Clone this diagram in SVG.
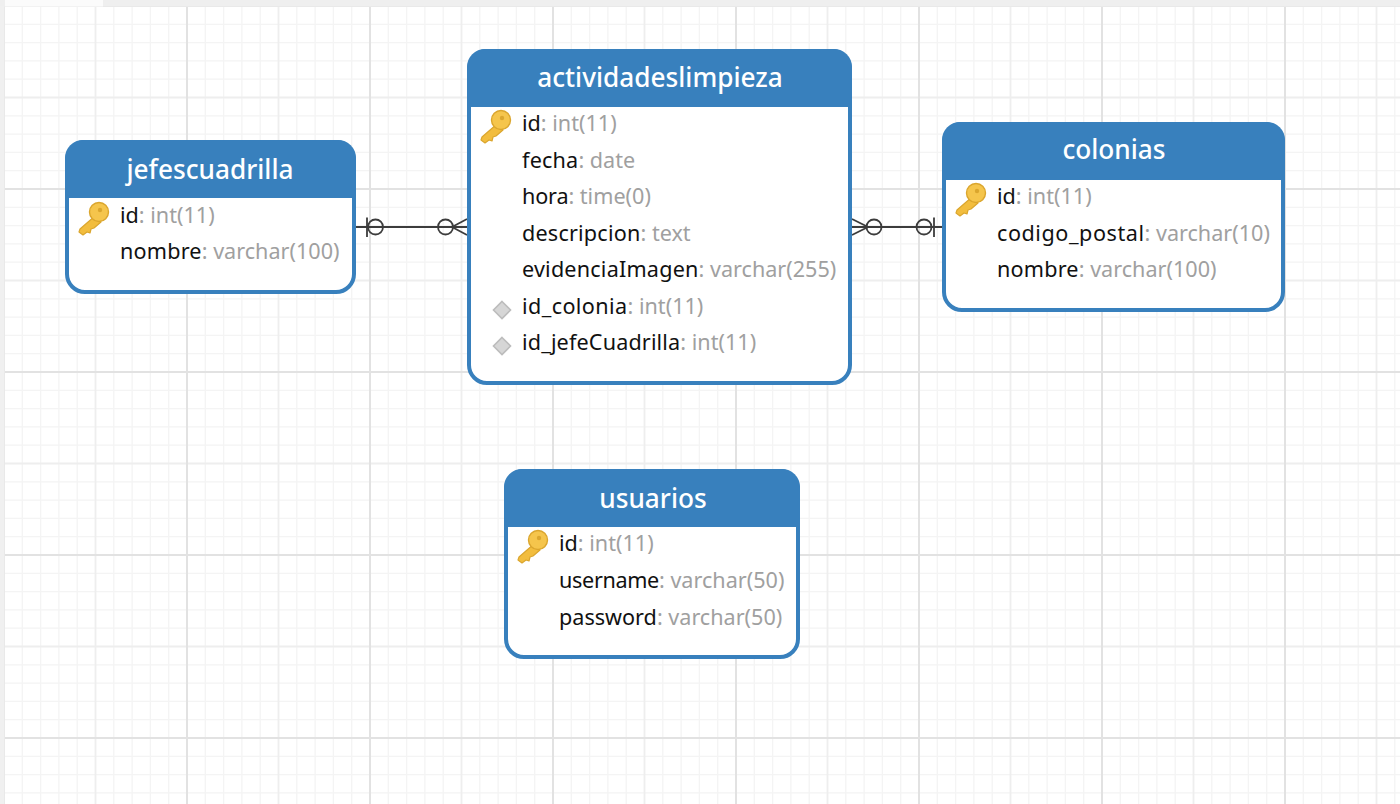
<svg xmlns="http://www.w3.org/2000/svg" width="1400" height="804" viewBox="0 0 1400 804">
<style>
.box{fill:#fff;stroke:#3880bd;stroke-width:4}
.head{fill:#3880bd}
.title{font:500 26.200px "Noto Sans","Open Sans",sans-serif;fill:#fff;text-anchor:middle}
.row{font:21.600px "Noto Sans","Open Sans",sans-serif;fill:#111}
.row tspan{fill:#a0a0a0;letter-spacing:0}
.conn{fill:none;stroke:#3c3c3c;stroke-width:1.8}
</style>
<defs>
<pattern id="grid" x="4" y="6" width="183" height="183" patternUnits="userSpaceOnUse">
<path d="M18.300 0V183M36.600 0V183M54.900 0V183M73.200 0V183M109.800 0V183M128.100 0V183M146.400 0V183M164.700 0V183M0 18.300H183M0 36.600H183M0 54.900H183M0 73.200H183M0 109.800H183M0 128.100H183M0 146.400H183M0 164.700H183" fill="none" stroke="#f4f4f4" stroke-width="1.300"/>
<path d="M91.500 0V183M0 91.500H183" fill="none" stroke="#eeeeee" stroke-width="1.800"/>
<path d="M0 0V183M183 0V183M0 0H183M0 183H183" fill="none" stroke="#e2e2e2" stroke-width="2"/>
</pattern>
<g id="key">
<path d="M1 1 L-14 14 L-15 17 L-11 20 L-7 17 L-4 18 L-3 14 L0 13 L7 7Z" fill="#f2bd3e" stroke="#dba62e" stroke-width="1.200" stroke-linejoin="round"/>
<circle cx="5" cy="-3" r="9.500" fill="#f5c54c" stroke="#dba62e" stroke-width="1.400"/>
<circle cx="6" cy="-5" r="2.200" fill="#dba62e"/>
</g>
<path id="fk" d="M0 -8.500L8.500 0L0 8.500L-8.500 0Z" fill="#d6d6d6" stroke="#bcbcbc" stroke-width="1.600"/>
</defs>
<rect width="1400" height="804" fill="#fff"/>
<rect width="1400" height="804" fill="url(#grid)"/>
<rect width="4.500" height="804" fill="#f0f0f0"/>
<rect width="1400" height="6.500" fill="#efefef"/>
<rect x="5" width="98" height="6.500" fill="#fbfbfb"/>
<g id="connectors">
<path class="conn" d="M355 227H468M367 217.500V237"/><circle class="conn" cx="375.500" cy="227" r="7.500"/>
<circle class="conn" cx="445.500" cy="227" r="7.500"/><path class="conn" d="M452 227L467 219M452 227L467 235"/>
<path class="conn" d="M851 227H943M934 217.500V237"/><circle class="conn" cx="874" cy="227" r="7.500"/><circle class="conn" cx="924" cy="227" r="7.500"/><path class="conn" d="M852 219L868 227L852 235"/>
</g>
<g id="jefescuadrilla">
<rect class="box" x="67" y="142" width="287" height="150" rx="18"/>
<path class="head" d="M65 198V158a18 18 0 0 1 18-18H338a18 18 0 0 1 18 18V198Z"/>
<text class="title" x="210" y="179">jefescuadrilla</text>
<use href="#key" x="94" y="215"/>
<text class="row" x="120" y="223">id<tspan>: int(11)</tspan></text>
<text class="row" x="120" y="259" style="letter-spacing:.2px">nombre<tspan>: varchar(100)</tspan></text>
</g>
<g id="actividadeslimpieza">
<rect class="box" x="469" y="51" width="381" height="332" rx="18"/>
<path class="head" d="M467 107V67a18 18 0 0 1 18-18H834a18 18 0 0 1 18 18V107Z"/>
<text class="title" x="660" y="87">actividadeslimpieza</text>
<use href="#key" x="496" y="123"/>
<text class="row" x="522" y="131">id<tspan>: int(11)</tspan></text>
<text class="row" x="522" y="168" style="letter-spacing:.2px">fecha<tspan>: date</tspan></text>
<text class="row" x="522" y="204" style="letter-spacing:-.15px">hora<tspan>: time(0)</tspan></text>
<text class="row" x="522" y="241" style="letter-spacing:.2px">descripcion<tspan>: text</tspan></text>
<text class="row" x="522" y="277" style="letter-spacing:.2px">evidenciaImagen<tspan>: varchar(255)</tspan></text>
<use href="#fk" x="502" y="310"/>
<text class="row" x="522" y="314" style="letter-spacing:.4px">id_colonia<tspan>: int(11)</tspan></text>
<use href="#fk" x="502" y="346"/>
<text class="row" x="522" y="350" style="letter-spacing:.15px">id_jefeCuadrilla<tspan>: int(11)</tspan></text>
</g>
<g id="colonias">
<rect class="box" x="944" y="124" width="339" height="186" rx="18"/>
<path class="head" d="M942 180V140a18 18 0 0 1 18-18H1267a18 18 0 0 1 18 18V180Z"/>
<text class="title" x="1114" y="159">colonias</text>
<use href="#key" x="971" y="196"/>
<text class="row" x="997" y="204">id<tspan>: int(11)</tspan></text>
<text class="row" x="997" y="241" style="letter-spacing:.55px">codigo_postal<tspan>: varchar(10)</tspan></text>
<text class="row" x="997" y="277" style="letter-spacing:.2px">nombre<tspan>: varchar(100)</tspan></text>
</g>
<g id="usuarios">
<rect class="box" x="506" y="471" width="292" height="186" rx="18"/>
<path class="head" d="M504 527V487a18 18 0 0 1 18-18H782a18 18 0 0 1 18 18V527Z"/>
<text class="title" x="653" y="508">usuarios</text>
<use href="#key" x="533" y="543"/>
<text class="row" x="559" y="551">id<tspan>: int(11)</tspan></text>
<text class="row" x="559" y="588" style="letter-spacing:-.33px">username<tspan>: varchar(50)</tspan></text>
<text class="row" x="559" y="625">password<tspan>: varchar(50)</tspan></text>
</g>
</svg>
